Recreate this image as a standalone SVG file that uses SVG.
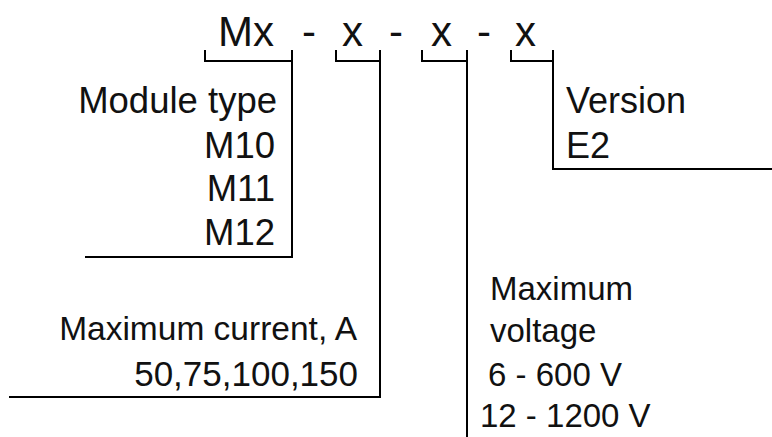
<svg xmlns="http://www.w3.org/2000/svg" width="772" height="437" viewBox="0 0 772 437">
<style>
.ln{fill:none;stroke:#000;stroke-width:2}
.t{font-family:"Liberation Sans",Arial,sans-serif;font-size:35px;fill:#111}
.big{font-family:"Liberation Sans",Arial,sans-serif;font-size:42px;fill:#111}
.r{text-anchor:end}
.mod{font-size:36.5px}
.cur{font-size:33.5px}
.vol{font-size:33px}
.ver{font-size:36px}
</style>
<rect width="772" height="437" fill="#fff"/>
<g id="code">
<text class="big" x="218" y="46">Mx</text>
<text class="big" x="302" y="46">-</text>
<text class="big" x="342" y="46">x</text>
<text class="big" x="389" y="46">-</text>
<text class="big" x="431" y="46">x</text>
<text class="big" x="477" y="46">-</text>
<text class="big" x="515" y="46">x</text>
</g>
<g id="connectors">
<path class="ln" d="M205,50 V61 H292 M292,50 V257 H85"/>
<path class="ln" d="M336,50 V61 H380 M380,50 V397 H9"/>
<path class="ln" d="M422,50 V61 H467 M467,50 V437"/>
<path class="ln" d="M511,50 V61 H553 M553,50 V169 H772"/>
</g>
<g id="module-type">
<text class="t r mod" x="277" y="113">Module type</text>
<text class="t r mod" x="275" y="158">M10</text>
<text class="t r mod" x="275" y="201">M11</text>
<text class="t r mod" x="275" y="245">M12</text>
</g>
<g id="max-current">
<text class="t r cur" x="357" y="340">Maximum current, A</text>
<text class="t r" x="358" y="386">50,75,100,150</text>
</g>
<g id="max-voltage">
<text class="t vol" x="490" y="300">Maximum</text>
<text class="t vol" x="490" y="342">voltage</text>
<text class="t vol" x="488" y="386">6 - 600 V</text>
<text class="t vol" x="480" y="427">12 - 1200 V</text>
</g>
<g id="version">
<text class="t ver" x="566" y="113">Version</text>
<text class="t ver" x="566" y="158">E2</text>
</g>
</svg>
